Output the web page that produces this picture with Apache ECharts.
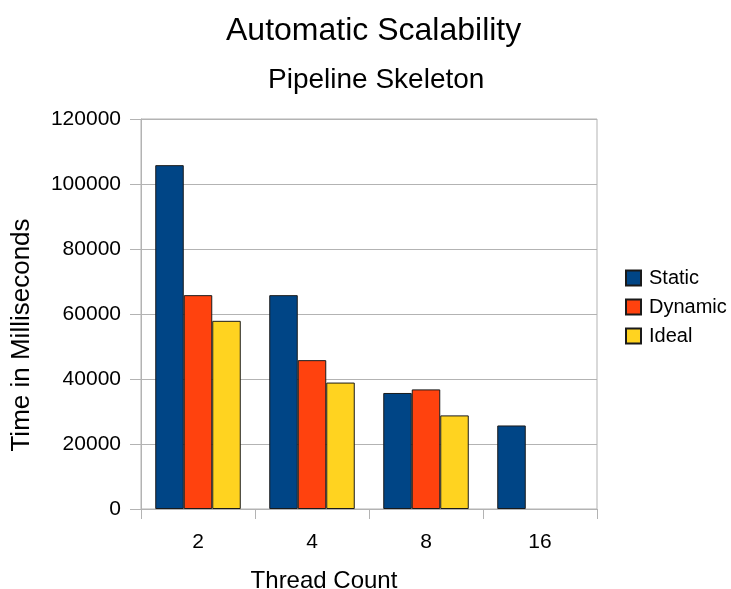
<!DOCTYPE html>
<html>
<head>
<meta charset="utf-8">
<script src="https://cdn.jsdelivr.net/npm/echarts@6/dist/echarts.min.js"></script>
<style>
html,body{margin:0;padding:0;background:#fff;}
#main{width:731px;height:589px;}
</style>
</head>
<body>
<div id="main"></div>
<script>
var categories = ['2', '4', '8', '16'];
var staticVals = [105800, 65800, 35700, 25700];
var dynamicVals = [65800, 45800, 36800, null];
var idealVals = [57900, 38900, 28800, null];
var seriesNames = ['Static', 'Dynamic', 'Ideal'];
var yTicks = { min: 0, max: 120000, interval: 20000 };

var FONT = '"Liberation Sans", Arial, sans-serif';
var chart = echarts.init(document.getElementById('main'), null, { renderer: 'canvas' });
var colors = ['#004586', '#ff420e', '#ffd320'];
var dataSets = [staticVals, dynamicVals, idealVals];

chart.setOption({
  animation: false,
  backgroundColor: '#ffffff',
  color: colors,
  title: [
    { text: 'Automatic Scalability', left: 226, top: 15, padding: 0,
      textStyle: { fontFamily: FONT, fontSize: 32, fontWeight: 'normal', color: '#000' } },
    { text: 'Pipeline Skeleton', left: 268, top: 66, padding: 0,
      textStyle: { fontFamily: FONT, fontSize: 28, fontWeight: 'normal', color: '#000' } }
  ],
  legend: {
    orient: 'vertical', left: 620, top: 263,
    itemWidth: 15, itemHeight: 15, itemGap: 9,
    icon: 'rect',
    textStyle: { fontFamily: FONT, fontSize: 20, color: '#000', padding: [0, 0, 0, 3] },
    data: seriesNames
  },
  grid: {
    left: 141, right: 134, top: 119, bottom: 80,
    show: true, borderColor: '#b3b3b3', borderWidth: 1, containLabel: false,
    outerBoundsMode: 'none'
  },
  xAxis: {
    type: 'category', data: categories,
    name: 'Thread Count', nameLocation: 'middle', nameGap: 60,
    nameTextStyle: { fontFamily: FONT, fontSize: 24, color: '#000', padding: [0, 90, 0, 0] },
    axisLine: { show: true, lineStyle: { color: '#b3b3b3', width: 1 } },
    axisTick: { show: true, length: 10, alignWithLabel: false, lineStyle: { color: '#b3b3b3' } },
    axisLabel: { fontFamily: FONT, fontSize: 21, color: '#000', margin: 23 },
    splitLine: { show: false }
  },
  yAxis: {
    type: 'value', min: yTicks.min, max: yTicks.max, interval: yTicks.interval,
    name: 'Time in Milliseconds', nameLocation: 'middle', nameGap: 106,
    nameTextStyle: { fontFamily: FONT, fontSize: 26, color: '#000', padding: [0, 42, 0, 0] },
    axisLine: { show: true, lineStyle: { color: '#b3b3b3', width: 1 } },
    axisTick: { show: true, length: 11, lineStyle: { color: '#b3b3b3' } },
    axisLabel: { fontFamily: FONT, fontSize: 21, color: '#000', margin: 20,
      formatter: function (v) { return String(v); } },
    splitLine: { show: true, lineStyle: { color: '#b3b3b3', width: 1 } }
  },
  series: seriesNames.map(function (n, i) {
    return {
      name: n, type: 'bar', data: dataSets[i],
      barGap: '0%', barCategoryGap: '25%',
      itemStyle: { color: colors[i], borderColor: '#1a1a1a', borderWidth: 1 }
    };
  })
});
</script>
</body>
</html>
